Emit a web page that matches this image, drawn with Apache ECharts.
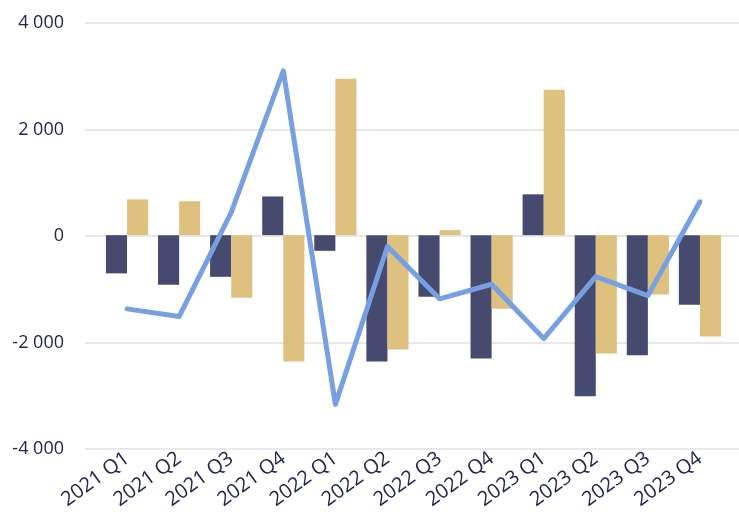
<!DOCTYPE html>
<html>
<head>
<meta charset="utf-8">
<script src="https://cdn.jsdelivr.net/npm/echarts@6/dist/echarts.min.js"></script>
<style>
  html, body { margin: 0; padding: 0; background: #fff; }
  #chart { width: 739px; height: 512px; }
</style>
</head>
<body>
<div id="chart"></div>
<script>
var categories = ['2021 Q1', '2021 Q2', '2021 Q3', '2021 Q4', '2022 Q1', '2022 Q2',
                  '2022 Q3', '2022 Q4', '2023 Q1', '2023 Q2', '2023 Q3', '2023 Q4'];
var darkValues = [-720, -935, -785, 730, -295, -2380, -1160, -2325, 770, -3035, -2265, -1310];
var tanValues  = [675, 640, -1180, -2380, 2950, -2155, 95, -1385, 2740, -2230, -1120, -1910];
var lineValues = [-1390, -1535, 430, 3100, -3190, -215, -1200, -925, -1950, -780, -1140, 630];
var yTicks = { min: -4000, max: 4000, interval: 2000 };

var textColor = '#23244f';
var fontName = 'Open Sans';

function fmt(v) {
  var s = String(Math.abs(v)).replace(/\B(?=(\d{3})+(?!\d))/g, ' ');
  return (v < 0 ? '-' : '') + s;
}

var chart = echarts.init(document.getElementById('chart'));
var option = {
  animation: false,
  grid: [
    // background grid: gridlines + y labels across the full width
    { left: 85, right: 0, top: 23, bottom: 63 },
    // data grid: where the categories sit
    { left: 101, right: 13, top: 23, bottom: 63 }
  ],
  xAxis: [
    { gridIndex: 0, type: 'category', data: categories, show: false },
    {
      gridIndex: 1,
      type: 'category',
      data: categories,
      axisLine: { show: false },
      axisTick: { show: false },
      axisLabel: {
        rotate: 36,
        margin: 9,
        color: textColor,
        fontFamily: fontName,
        fontSize: 20,
        interval: 0
      }
    }
  ],
  yAxis: [
    {
      gridIndex: 0,
      type: 'value',
      min: yTicks.min,
      max: yTicks.max,
      interval: yTicks.interval,
      axisLine: { show: false },
      axisTick: { show: false },
      splitLine: { lineStyle: { color: '#e8e8e8', width: 2 } },
      axisLabel: {
        margin: 21,
        color: textColor,
        fontFamily: fontName,
        fontSize: 18,
        formatter: fmt
      }
    },
    {
      gridIndex: 1,
      type: 'value',
      min: yTicks.min,
      max: yTicks.max,
      interval: yTicks.interval,
      show: false
    }
  ],
  series: [
    {
      type: 'bar',
      xAxisIndex: 1,
      yAxisIndex: 1,
      data: darkValues,
      barGap: '0%',
      barCategoryGap: '19%',
      itemStyle: { color: '#474a6f' }
    },
    {
      type: 'bar',
      xAxisIndex: 1,
      yAxisIndex: 1,
      data: tanValues,
      barGap: '0%',
      barCategoryGap: '19%',
      itemStyle: { color: '#dfc17f' }
    },
    {
      type: 'line',
      xAxisIndex: 1,
      yAxisIndex: 1,
      data: lineValues,
      showSymbol: false,
      symbol: 'none',
      lineStyle: { color: '#76a0e1', width: 5, cap: 'round', join: 'round' },
      z: 5
    }
  ]
};
chart.setOption(option);
</script>
</body>
</html>
